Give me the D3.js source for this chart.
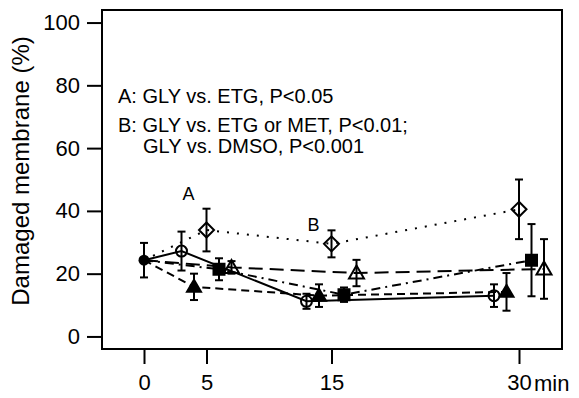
<!DOCTYPE html>
<html>
<head>
<meta charset="utf-8">
<script src="https://cdn.jsdelivr.net/npm/d3@7"></script>
<style>
    body { margin: 0; background: #fff; }
    svg { display: block; font-family: "Liberation Sans", Arial, Helvetica, sans-serif; }
</style>
</head>
<body>
<svg id="chart"></svg>
<script>
var width = 579;
var height = 398;

// time points (min) and the shared starting value at 0 min
var timeTicks = [0, 5, 15, 30];
var sampleTimes = [5, 15, 30];
var startMean = 24.3;
var startErr = 5.5;

// five treatment groups, each plotted with a small horizontal offset
var groupKeys = ["openCircle", "filledTriangle", "openDiamond", "filledSquare", "openTriangle"];
var groupOffsets = [-2, -1, 0, 1, 2];
var groupMeans = [
    [27.2, 11.2, 13.0],
    [15.8, 13.0, 14.2],
    [33.9, 29.5, 40.5],
    [21.4, 13.3, 24.3],
    [22.0, 20.2, 21.5]
];
var groupErrors = [
    [6.2, 2.4, 3.6],
    [4.2, 3.6, 6.0],
    [6.8, 4.3, 9.5],
    [3.5, 2.3, 11.5],
    [2.0, 4.2, 9.5]
];
var groupDashes = ["none", "8,5", "2,8", "9,5,2,5", "14,7"];

var yTicks = [0, 20, 40, 60, 80, 100];
var sigLabels = [
    { text: "A", time: 5, value: 43.5 },
    { text: "B", time: 15, value: 33.5 }
];
var noteLines = [
    "A: GLY vs. ETG, P<0.05",
    "B: GLY vs. ETG or MET, P<0.01;",
    "GLY vs. DMSO, P<0.001"
];

var svg = d3.select("#chart")
    .attr("width", width)
    .attr("height", height);

var x = d3.scaleLinear()
    .domain([-3.36, 33.44])
    .range([102, 562]);

var y = d3.scaleLinear()
    .domain([-4, 104])
    .range([349, 10]);

// axes
var yAxis = svg.append("g")
    .attr("transform", "translate(102,0)")
    .call(d3.axisLeft(y).tickValues(yTicks).tickSize(15).tickPadding(7));

var xAxis = svg.append("g")
    .attr("transform", "translate(0,349)")
    .call(d3.axisBottom(x).tickValues(timeTicks).tickSize(15).tickPadding(10));

[yAxis, xAxis].forEach(function (ax) {
    ax.select(".domain").remove();
    ax.selectAll(".tick line").attr("stroke", "#000").attr("stroke-width", 2);
    ax.selectAll(".tick text")
        .attr("fill", "#000")
        .attr("font-size", "22px")
        .attr("font-family", "'Liberation Sans', Arial, sans-serif");
});

svg.append("text")
    .attr("x", x(30) + 15)
    .attr("y", 391)
    .attr("font-size", "22px")
    .text("min");

svg.append("text")
    .attr("transform", "translate(29,171) rotate(-90)")
    .attr("text-anchor", "middle")
    .attr("font-size", "24px")
    .text("Damaged membrane (%)");

// build series
var series = [];
for (var i = 0; i < groupKeys.length; i++) {
    var pts = [{ t: 0, v: startMean, e: startErr, start: true }];
    for (var j = 0; j < sampleTimes.length; j++) {
        pts.push({
            t: sampleTimes[j] + groupOffsets[i],
            v: groupMeans[i][j],
            e: groupErrors[i][j]
        });
    }
    series.push({ key: groupKeys[i], dash: groupDashes[i], points: pts });
}

var line = d3.line()
    .x(function (d) { return x(d.t); })
    .y(function (d) { return y(d.v); });

svg.append("g")
    .selectAll("path")
    .data(series)
    .join("path")
    .attr("d", function (d) { return line(d.points); })
    .attr("fill", "none")
    .attr("stroke", "#000")
    .attr("stroke-width", 2)
    .attr("stroke-dasharray", function (d) { return d.dash; });

// error bars
var allPoints = [{ t: 0, v: startMean, e: startErr }];
series.forEach(function (s) {
    s.points.forEach(function (p) {
        if (!p.start) allPoints.push({ t: p.t, v: p.v, e: p.e, key: s.key });
    });
});

var bars = svg.append("g")
    .attr("stroke", "#000")
    .attr("stroke-width", 2)
    .selectAll("g")
    .data(allPoints)
    .join("g");

bars.append("line")
    .attr("x1", function (d) { return x(d.t); })
    .attr("x2", function (d) { return x(d.t); })
    .attr("y1", function (d) { return y(d.v + d.e); })
    .attr("y2", function (d) { return y(d.v - d.e); });

bars.append("line")
    .attr("x1", function (d) { return x(d.t) - 4; })
    .attr("x2", function (d) { return x(d.t) + 4; })
    .attr("y1", function (d) { return y(d.v + d.e); })
    .attr("y2", function (d) { return y(d.v + d.e); });

bars.append("line")
    .attr("x1", function (d) { return x(d.t) - 4; })
    .attr("x2", function (d) { return x(d.t) + 4; })
    .attr("y1", function (d) { return y(d.v - d.e); })
    .attr("y2", function (d) { return y(d.v - d.e); });

// markers
var shapes = {
    openCircle: { path: d3.symbol(d3.symbolCircle, 95)(), fill: "none" },
    filledTriangle: { path: "M0,-7L7,5L-7,5Z", fill: "#000" },
    openDiamond: { path: "M0,-7.5L7.5,0L0,7.5L-7.5,0Z", fill: "none" },
    filledSquare: { path: "M-5.5,-5.5H5.5V5.5H-5.5Z", fill: "#000" },
    openTriangle: { path: "M0,-7.5L7.5,5.5L-7.5,5.5Z", fill: "none" }
};

svg.append("g")
    .selectAll("path")
    .data(allPoints.slice(1))
    .join("path")
    .attr("transform", function (d) { return "translate(" + x(d.t) + "," + y(d.v) + ")"; })
    .attr("d", function (d) { return shapes[d.key].path; })
    .attr("fill", function (d) { return shapes[d.key].fill; })
    .attr("stroke", "#000")
    .attr("stroke-width", 2);

svg.append("circle")
    .attr("cx", x(0))
    .attr("cy", y(startMean))
    .attr("r", 5.5)
    .attr("fill", "#000");

// significance letters
svg.append("g")
    .selectAll("text")
    .data(sigLabels)
    .join("text")
    .attr("x", function (d) { return x(d.time) - 18; })
    .attr("y", function (d) { return y(d.value); })
    .attr("text-anchor", "middle")
    .attr("font-size", "18px")
    .text(function (d) { return d.text; });

// notes
svg.append("text").attr("x", 118).attr("y", 103).attr("font-size", "20px").text(noteLines[0]);
svg.append("text").attr("x", 118).attr("y", 132).attr("font-size", "20px").text(noteLines[1]);
svg.append("text").attr("x", 143).attr("y", 153).attr("font-size", "20px").text(noteLines[2]);

// frame
svg.append("rect")
    .attr("x", 102)
    .attr("y", 10)
    .attr("width", 460)
    .attr("height", 339)
    .attr("fill", "none")
    .attr("stroke", "#000")
    .attr("stroke-width", 2);
</script>
</body>
</html>
